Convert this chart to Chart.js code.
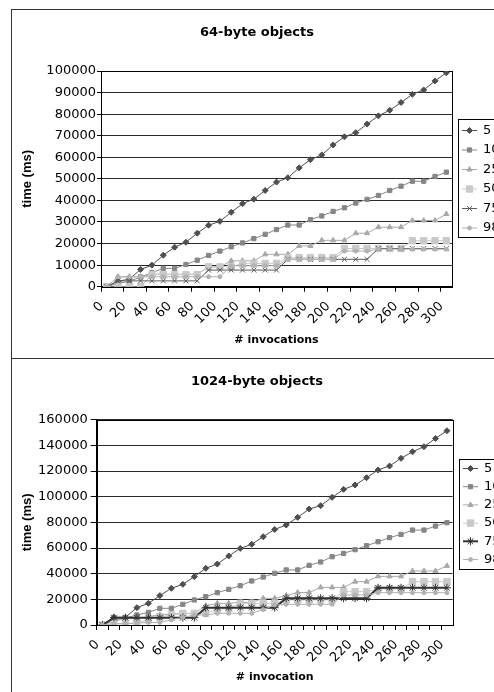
<!DOCTYPE html>
<html>
<head>
<meta charset="utf-8">
<script src="https://cdn.jsdelivr.net/npm/chart.js@4.4.1/dist/chart.umd.min.js"></script>
<style>
  html, body { margin: 0; padding: 0; overflow: hidden; background: #fff; }
  #frame { position: absolute; left: 11px; top: 9px; width: 490px; border: 1px solid #333; }
  .panel { width: 490px; height: 348px; }
  .panel + .panel { border-top: 1px solid #333; }
  canvas { display: block; }
</style>
</head>
<body>
<div id="frame">
  <div class="panel"><canvas id="c64" width="490" height="348"></canvas></div>
  <div class="panel"><canvas id="c1024" width="490" height="348"></canvas></div>
</div>
<script>
// ── data ─────────────────────────────────────
const invocations = ['0','10','20','30','40','50','60','70','80','90','100','110','120','130','140','150',
  '160','170','180','190','200','210','220','230','240','250','260','270','280','290','300'];
const seriesNames = ['5', '10', '25', '50', '75', '98'];
const ticks64 = [0, 10000, 20000, 30000, 40000, 50000, 60000, 70000, 80000, 90000, 100000];
const ticks1024 = [0, 20000, 40000, 60000, 80000, 100000, 120000, 140000, 160000];

// 64-byte objects
const t64_5  = [0, 2500, 3500, 8000, 10000, 14600, 18300, 20600, 24800, 28500, 30300, 34500, 38500, 40600, 44600, 48500,
  50500, 55100, 58900, 61100, 65700, 69500, 71400, 75400, 79200, 81800, 85400, 89200, 91200, 95400, 99200];
const t64_10 = [0, 1500, 2500, 4500, 6500, 8500, 8500, 10300, 12300, 14500, 16500, 18500, 20300, 22300, 24300, 26500,
  28600, 28600, 31100, 32800, 34900, 36600, 38800, 40500, 42300, 44600, 46600, 48900, 48900, 51100, 53100];
const t64_25 = [0, 4600, 4600, 4600, 5800, 5800, 5800, 5800, 5800, 9200, 9200, 12000, 12000, 12000, 15000, 15000,
  15000, 18900, 18900, 21500, 21500, 21500, 24800, 24800, 27600, 27600, 27600, 30700, 30700, 30700, 33700];
const t64_50 = [0, 0, 0, 0, 5600, 5600, 5600, 5600, 5600, 9200, 9200, 9200, 10800, 10800, 10800, 10800,
  13500, 13500, 13500, 13500, 13500, 17700, 17700, 17700, 17700, 17700, 17700, 21300, 21300, 21300, 21300];
const t64_75 = [0, 2700, 2700, 2700, 2700, 2700, 2700, 2700, 2700, 7700, 7700, 7700, 7700, 7700, 7700, 7700,
  12700, 12700, 12700, 12700, 12700, 12700, 12700, 12700, 17700, 17700, 17700, 17700, 17700, 17700, 17700];
const t64_98 = [0, 4600, 4600, 4600, 4600, 4600, 4600, 4600, 4600, 4600, 4600, 9700, 9700, 9700, 9700, 9700,
  12600, 12600, 12600, 12600, 12600, 16500, 16500, 16500, 17400, 17400, 17400, 17400, 17400, 17400, 17400];

// 1024-byte objects
const t1024_5  = [0, 6000, 6000, 13500, 16900, 22900, 28600, 31700, 37700, 44200, 47500, 53800, 59700, 62900, 68800, 74500,
  77900, 83900, 90400, 93000, 99500, 105700, 109100, 114800, 120800, 123900, 129900, 135000, 139000, 145400, 151400];
const t1024_10 = [0, 4000, 5500, 7800, 9800, 13000, 13000, 16100, 19500, 22100, 25200, 27800, 30600, 34300, 37400, 40300,
  42900, 42900, 46500, 49100, 53200, 55800, 58700, 61800, 64900, 68100, 70600, 74000, 74000, 77100, 79700];
const t1024_25 = [0, 3000, 5000, 5000, 6500, 8000, 8500, 9000, 9000, 15000, 16900, 16900, 17700, 17700, 20800, 20800,
  23000, 25300, 25300, 29300, 29300, 29300, 33800, 33800, 37900, 37900, 37900, 42100, 42100, 42100, 46100];
const t1024_50 = [0, 1000, 1000, 1800, 4000, 6500, 7800, 9100, 9100, 9100, 12000, 13000, 16900, 16900, 16900, 16900,
  19500, 19500, 19500, 19500, 19500, 26000, 26000, 26000, 28000, 28000, 28000, 33800, 33800, 33800, 33800];
const t1024_75 = [0, 5700, 5700, 5700, 5700, 5700, 5700, 5700, 5700, 13500, 13500, 13500, 13500, 13500, 13500, 13500,
  20800, 20800, 20800, 20800, 20800, 20800, 20800, 20800, 29000, 29000, 29000, 29000, 29000, 29000, 29000];
const t1024_98 = [0, 1000, 1000, 1500, 2000, 2000, 4000, 6000, 7800, 7800, 9100, 9100, 9100, 9100, 12000, 15600,
  16100, 16100, 16100, 16100, 16100, 23400, 23400, 23400, 25200, 25200, 25200, 25200, 25200, 25200, 25200];

// ── styles ───────────────────────────────────
const styles64 = [
  { color: '#4e4e4e', style: 'rectRot', radius: 3, width: 1 },
  { color: '#868686', style: 'rect', radius: 3, width: 1 },
  { color: '#a8a8a8', style: 'triangle', radius: 3, width: 1 },
  { color: '#c9c9c9', style: 'rect', radius: 4.5, width: 1 },
  { color: '#5c5c5c', style: 'crossRot', radius: 3.5, width: 1 },
  { color: '#b2b2b2', style: 'circle', radius: 2, width: 1 },
];
const styles1024 = styles64.map((s, i) => i === 4 ? { color: '#333', style: 'star', radius: 4, width: 2 } : s);

const FONT = 'DejaVu Sans';

function makeDatasets(seriesList, styles) {
  return seriesList.map((values, i) => ({
    label: seriesNames[i],
    data: values,
    borderColor: styles[i].color,
    backgroundColor: styles[i].color,
    borderWidth: styles[i].width,
    pointStyle: styles[i].style,
    pointRadius: styles[i].radius,
    pointBorderWidth: 1,
    pointBackgroundColor: styles[i].color,
    pointBorderColor: styles[i].color,
    tension: 0,
    order: seriesList.length - i,
  }));
}

// plot frame (top/right edges) + Excel-like boxed legend
const framePlugin = {
  id: 'plotFrame',
  beforeDatasetsDraw(chart) {
    const { ctx, chartArea: a } = chart;
    ctx.save();
    ctx.strokeStyle = '#000';
    ctx.lineWidth = 1;
    ctx.strokeRect(Math.round(a.left) + 0.5, Math.round(a.top) + 0.5,
      Math.round(a.right - a.left), Math.round(a.bottom - a.top));
    ctx.restore();
  },
};

const boxLegend = {
  id: 'boxLegend',
  afterDraw(chart, args, o) {
    const ctx = chart.ctx;
    ctx.save();
    ctx.strokeStyle = '#000';
    ctx.lineWidth = 1;
    ctx.strokeRect(o.left + 0.5, o.top + 0.5, o.width, o.height);
    chart.data.datasets.forEach((ds, i) => {
      const y = o.top + o.first + i * o.gap;
      ctx.strokeStyle = ds.borderColor;
      ctx.lineWidth = ds.borderWidth;
      ctx.beginPath();
      ctx.moveTo(o.left + 4, y);
      ctx.lineTo(o.left + 19, y);
      ctx.stroke();
      ctx.fillStyle = ds.pointBackgroundColor;
      ctx.strokeStyle = ds.pointBorderColor;
      ctx.lineWidth = 1;
      Chart.helpers.drawPoint(ctx, { pointStyle: ds.pointStyle, radius: ds.pointRadius, borderWidth: 1, rotation: 0 },
        o.left + 11.5, y);
      ctx.fillStyle = '#000';
      ctx.font = '13px "' + FONT + '"';
      ctx.textBaseline = 'middle';
      ctx.textAlign = 'left';
      ctx.fillText(ds.label, o.left + 25, y);
    });
    ctx.restore();
  },
};

function makeChart(id, g) {
  return new Chart(document.getElementById(id), {
    type: 'line',
    data: { labels: invocations, datasets: makeDatasets(g.series, g.styles) },
    plugins: [framePlugin, boxLegend],
    options: {
      responsive: false,
      animation: false,
      events: [],
      layout: { padding: 0 },
      plugins: {
        legend: { display: false },
        tooltip: { enabled: false },
        title: {
          display: true, text: g.title, color: '#000',
          font: { family: FONT, size: 13, weight: 'bold' },
          padding: { top: g.titleTop, bottom: g.titleBottom },
        },
        boxLegend: g.legend,
      },
      scales: {
        x: {
          type: 'category',
          offset: true,
          afterFit: s => { s.height = g.xHeight; },
          grid: {
            offset: true, drawOnChartArea: false, tickLength: 5,
            tickColor: c => (c.index === undefined || c.index % g.tickEvery) ? 'rgba(0,0,0,0)' : '#000',
          },
          border: { color: '#000', width: 1 },
          ticks: {
            autoSkip: false, minRotation: 45, maxRotation: 45, padding: 7, labelOffset: -5, color: '#000',
            font: { family: FONT, size: 13 },
            callback: function (v, i) { return i % 2 ? '' : this.getLabelForValue(v); },
          },
          title: {
            display: true, text: g.xTitle, color: '#000',
            font: { family: FONT, size: 11, weight: 'bold' },
            padding: { top: 0, bottom: g.xTitlePad },
          },
        },
        y: {
          min: g.yTicks[0], max: g.yTicks[g.yTicks.length - 1],
          afterFit: s => { s.width = g.yWidth; },
          afterBuildTicks: s => { s.ticks = g.yTicks.map(v => ({ value: v })); },
          grid: { color: '#2a2a2a', lineWidth: 1, tickLength: g.yTickLen, tickColor: '#000' },
          border: { color: '#000', width: 1 },
          ticks: {
            color: '#000', padding: g.yTickPad,
            font: { family: FONT, size: 13 },
            callback: v => String(v),
          },
          title: {
            display: true, text: 'time (ms)', color: '#000',
            font: { family: 'Liberation Sans', size: 13, weight: 'bold' },
            padding: { top: 7.2, bottom: 0 },
          },
        },
        // empty right-hand column that holds the legend box
        side: {
          type: 'linear', position: 'right', display: true,
          afterFit: s => { s.width = g.sideWidth; },
          grid: { display: false }, border: { display: false }, ticks: { display: false },
        },
      },
    },
  });
}

makeChart('c64', {
  title: '64-byte objects', xTitle: '# invocations',
  series: [t64_5, t64_10, t64_25, t64_50, t64_75, t64_98], styles: styles64,
  yTicks: ticks64, tickEvery: 2,
  sideWidth: 50, titleTop: 14.5, titleBottom: 30.9,
  yWidth: 89, yTickLen: 4, yTickPad: 1,
  xHeight: 71.3, xTitlePad: 11.4,
  legend: { left: 446, top: 109, width: 42, height: 118, first: 11.5, gap: 19.5 },
});

makeChart('c1024', {
  title: '1024-byte objects', xTitle: '# invocation',
  series: [t1024_5, t1024_10, t1024_25, t1024_50, t1024_75, t1024_98], styles: styles1024,
  yTicks: ticks1024, tickEvery: 1,
  sideWidth: 49.3, titleTop: 14.9, titleBottom: 30.2,
  yWidth: 84.7, yTickLen: 6, yTickPad: 3,
  xHeight: 82, xTitlePad: 23.4,
  legend: { left: 447, top: 100, width: 42, height: 110, first: 9.5, gap: 18.2 },
});
</script>
</body>
</html>
